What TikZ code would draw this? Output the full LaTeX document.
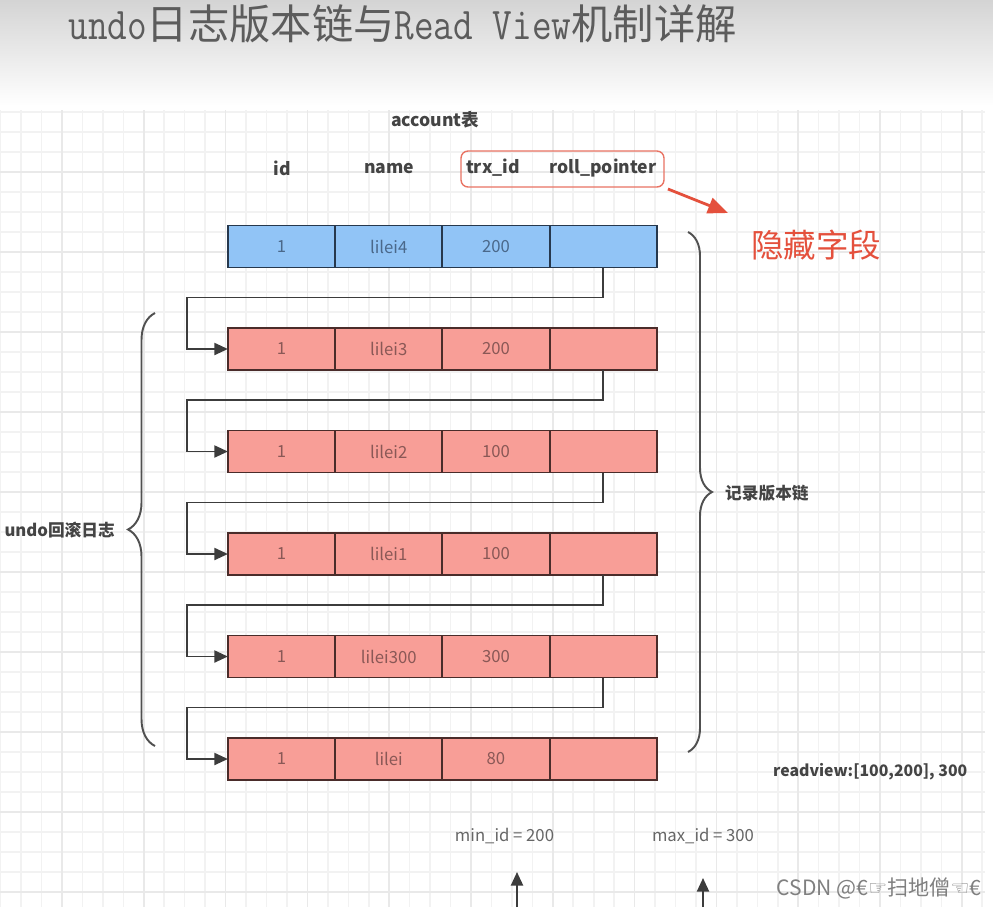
\documentclass[tikz,border=0pt]{standalone}
\usepackage{fontspec}
\setmainfont{Noto Sans CJK SC}
\newfontfamily\titlelatin[FakeStretch=0.84,Scale=1.1]{Latin Modern Mono}
\newfontfamily\markfont{DejaVu Sans}
\usetikzlibrary{arrows.meta,positioning,decorations.pathreplacing}
\definecolor{viewhead}{RGB}{212,212,212}
\definecolor{viewtitle}{RGB}{92,92,92}
\definecolor{gridthin}{RGB}{242,242,242}
\definecolor{gridthick}{RGB}{233,233,233}
\definecolor{rowblue}{RGB}{145,196,246}
\definecolor{rowred}{RGB}{248,158,151}
\definecolor{inkblue}{RGB}{74,104,138}
\definecolor{inkred}{RGB}{138,88,86}
\definecolor{lineblue}{RGB}{38,56,77}
\definecolor{linered}{RGB}{74,44,42}
\definecolor{chainink}{RGB}{60,60,60}
\definecolor{hiddenred}{RGB}{228,80,60}
\definecolor{labelink}{RGB}{68,68,68}
\tikzset{
  gridline/.style={gridthin, line width=0.9pt},
  gridbold/.style={gridthick, line width=1pt},
  cell/.style={draw, line width=1.1pt, inner sep=0pt, outer sep=0pt,
    minimum width=2.145cm, minimum height=0.84cm, font=\fontsize{9.5}{11}\selectfont},
  newcell/.style={cell, fill=rowblue, draw=lineblue, text=inkblue},
  oldcell/.style={cell, fill=rowred, draw=linered, text=inkred},
  colhead/.style={font=\bfseries\fontsize{10}{12}\selectfont, text=labelink},
  sidelabel/.style={font=\bfseries\fontsize{9.5}{11}\selectfont, text=labelink},
  idlabel/.style={font=\fontsize{9.5}{11}\selectfont, text=black!60},
  hiddenbox/.style={draw=hiddenred!80, line width=0.8pt, rounded corners=4pt,
    minimum width=4.06cm, minimum height=0.72cm},
  hiddenarrow/.style={-{Triangle[length=4mm,width=3.2mm]}, line width=1.6pt, hiddenred},
  chainarrow/.style={-{Triangle[length=2.7mm,width=2.4mm]}, line width=1.1pt, chainink},
  verbrace/.style={decorate, line width=1.1pt, draw=chainink!90},
}

\begin{document}
\begin{tikzpicture}[x=0.02cm, y=-0.02cm]
  \useasboundingbox (0,0) rectangle (993,907);
  \fill[white] (0,0) rectangle (993,907);
  \shade[top color=viewhead, bottom color=white] (0,0) rectangle (993,106);
  % grid paper
  \foreach \gx in {0.65,21.1,...,985} \draw[gridline] (\gx,110) -- (\gx,907);
  \foreach \gy in {112,132,...,892} \draw[gridline] (0,\gy) -- (985,\gy);
  \foreach \gx in {62,143.8,...,985} \draw[gridbold] (\gx,110) -- (\gx,907);
  \foreach \gy in {172,252,...,892} \draw[gridbold] (0,\gy) -- (985,\gy);

  \node[anchor=west, text=viewtitle, font=\fontsize{23.5}{26}\selectfont, inner sep=0pt] (title) at (68,24)
    {{\titlelatin undo}日志版本链与{\titlelatin Read View}机制详解};

  % table header
  \node[colhead] (tabname) at (435,120) {account表};
  \node[colhead] (hdid) at (282,168) {id};
  \node[colhead] (hdname) at (389,168) {name};
  \node[colhead] (hdtrx) at (493,168) {trx\_id};
  \node[colhead] (hdrp) at (603,168) {roll\_pointer};
  \node[hiddenbox] (hid) at (562.5,169) {};
  \coordinate (hidtip) at (728,213);
  \draw[hiddenarrow, shorten <=2pt] (hid.south east) -- (hidtip);
  \node[font=\fontsize{18.5}{22}\selectfont, text=hiddenred] (hidlbl) at (816,245) {隐藏字段};

  % current record
  \node[newcell] (id0) at (281.5,246.5) {1};
  \node[newcell, right=0pt of id0] (nm0) {lilei4};
  \node[newcell, right=0pt of nm0] (tx0) {200};
  \node[newcell, right=0pt of tx0] (rp0) {};

  % undo log records
  \node[oldcell] (id1) at (281.5,349) {1};
  \node[oldcell, right=0pt of id1] (nm1) {lilei3};
  \node[oldcell, right=0pt of nm1] (tx1) {200};
  \node[oldcell, right=0pt of tx1] (rp1) {};

  \node[oldcell] (id2) at (281.5,451.5) {1};
  \node[oldcell, right=0pt of id2] (nm2) {lilei2};
  \node[oldcell, right=0pt of nm2] (tx2) {100};
  \node[oldcell, right=0pt of tx2] (rp2) {};

  \node[oldcell] (id3) at (281.5,554) {1};
  \node[oldcell, right=0pt of id3] (nm3) {lilei1};
  \node[oldcell, right=0pt of nm3] (tx3) {100};
  \node[oldcell, right=0pt of tx3] (rp3) {};

  \node[oldcell] (id4) at (281.5,656.5) {1};
  \node[oldcell, right=0pt of id4] (nm4) {lilei300};
  \node[oldcell, right=0pt of nm4] (tx4) {300};
  \node[oldcell, right=0pt of tx4] (rp4) {};

  \node[oldcell] (id5) at (281.5,759) {1};
  \node[oldcell, right=0pt of id5] (nm5) {lilei};
  \node[oldcell, right=0pt of nm5] (tx5) {80};
  \node[oldcell, right=0pt of tx5] (rp5) {};

  % roll pointers
  \coordinate (bend1) at (187,297.5);
  \coordinate (bend2) at (187,400);
  \coordinate (bend3) at (187,502.5);
  \coordinate (bend4) at (187,605);
  \coordinate (bend5) at (187,707.5);
  \draw[chainarrow] (rp0.south) |- (bend1) |- (id1.west);
  \draw[chainarrow] (rp1.south) |- (bend2) |- (id2.west);
  \draw[chainarrow] (rp2.south) |- (bend3) |- (id3.west);
  \draw[chainarrow] (rp3.south) |- (bend4) |- (id4.west);
  \draw[chainarrow] (rp4.south) |- (bend5) |- (id5.west);

  % braces
  \draw[verbrace, decoration={brace, amplitude=5.4mm}] (155,746) -- (155,313);
  \node[sidelabel, anchor=east] (undolbl) at (121,530) {undo回滚日志};
  \draw[verbrace, decoration={brace, amplitude=4.8mm}] (688,232) -- (688,752);
  \node[sidelabel, anchor=west] (chainlbl) at (719,493) {记录版本链};

  % read view
  \node[colhead, anchor=west, font=\bfseries\fontsize{9}{11}\selectfont] (rview) at (767,772) {readview:[100,200], 300};
  \node[idlabel] (minlbl) at (504.5,836) {min\_id = 200};
  \node[idlabel] (maxlbl) at (703,836) {max\_id = 300};
  \coordinate (minfoot) at (517,907);
  \coordinate (mintip) at (517,872);
  \coordinate (maxfoot) at (703,907);
  \coordinate (maxtip) at (703,878);
  \draw[chainarrow] (minfoot) -- (mintip);
  \draw[chainarrow] (maxfoot) -- (maxtip);

  \node[font=\fontsize{12}{14}\selectfont, text=black!50] (mark) at (879,888)
    {CSDN @€{\markfont ☞}扫地僧{\markfont ☜}€};
\end{tikzpicture}
\end{document}
